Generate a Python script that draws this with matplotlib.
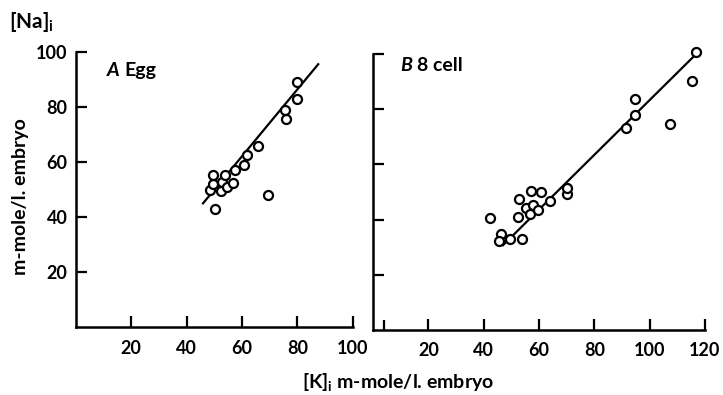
import matplotlib
matplotlib.use("Agg")
import matplotlib.pyplot as plt

plt.rcParams["font.family"] = ["Lato", "DejaVu Sans"]
plt.rcParams["mathtext.fontset"] = "custom"
plt.rcParams["mathtext.rm"] = "Lato:bold"

# panel A: unfertilised egg
egg_k = [50.1, 48.3, 49.5, 49.5, 52.8, 52.5, 53.7, 54.6, 56.7, 57.6,
         60.7, 61.9, 65.8, 69.4, 75.7, 75.4, 80.0, 80.0]
egg_na = [42.8, 49.8, 51.9, 55.3, 52.8, 49.6, 55.3, 51.0, 52.5, 57.1,
          58.9, 62.5, 65.8, 48.0, 75.5, 78.9, 82.8, 89.2]
egg_line_k = [45.9, 87.5]
egg_line_na = [45.0, 95.6]

# panel B: 8 cell
cell_k = [42.2, 46.4, 45.5, 49.6, 53.9, 52.4, 52.7, 55.4, 56.6, 57.2,
          57.8, 59.6, 60.8, 63.8, 70.0, 70.0, 91.5, 94.8, 94.8, 107.5,
          115.4, 116.9]
cell_na = [40.7, 34.9, 32.2, 33.1, 33.1, 40.9, 47.4, 44.2, 41.9, 50.4,
           45.4, 43.6, 50.0, 46.6, 49.2, 51.5, 73.2, 78.0, 83.7, 74.7,
           90.4, 100.7]
cell_line_k = [47.0, 116.4]
cell_line_na = [30.7, 99.6]

fig = plt.figure(figsize=(7.23, 3.95), dpi=100)
axA = fig.add_axes([0.105, 0.172, 0.383, 0.696])
axB = fig.add_axes([0.516, 0.165, 0.459, 0.698])

def style(ax, xmax, xticks, ylabels):
    ax.set_xlim(0, xmax)
    ax.set_ylim(0, 100)
    for s in ["top", "right"]:
        ax.spines[s].set_visible(False)
    for s in ["left", "bottom"]:
        ax.spines[s].set_linewidth(1.8)
    ax.set_xticks(xticks)
    ax.set_yticks([20, 40, 60, 80, 100])
    ax.tick_params(direction="in", length=8, width=1.6, labelsize=13)
    ax.tick_params(axis="x", pad=9)
    ax.tick_params(axis="y", pad=6)
    if not ylabels:
        ax.set_yticklabels([])
    for lab in ax.get_xticklabels() + ax.get_yticklabels():
        lab.set_fontweight("bold")

style(axA, 100, [20, 40, 60, 80, 100], True)
style(axB, 120, [20, 40, 60, 80, 100, 120], False)
axB.set_xticks([4], minor=True)
axB.tick_params(which="minor", direction="in", length=7, width=1.6)

axA.plot(egg_line_k, egg_line_na, color="black", lw=1.6, zorder=2)
axA.plot(egg_k, egg_na, "o", ms=6.5, mfc="white", mec="black", mew=1.6,
         zorder=3, clip_on=False)
axB.plot(cell_line_k, cell_line_na, color="black", lw=1.6, zorder=2)
axB.plot(cell_k, cell_na, "o", ms=6.5, mfc="white", mec="black", mew=1.6,
         zorder=3, clip_on=False)

axA.text(11, 93.5, "A", fontsize=14, fontweight="bold", style="italic", va="center")
axA.text(17.6, 93.5, "Egg", fontsize=14, fontweight="bold", va="center")
axB.text(10, 96, "B", fontsize=14, fontweight="bold", style="italic", va="center")
axB.text(16.0, 96, "8 cell", fontsize=14, fontweight="bold", va="center")

fig.text(0.012, 1 - 22 / 395, r"[Na]$_\mathrm{i}$", fontsize=15, fontweight="bold", va="center")
fig.text(0.028, 1 - 197 / 395, "m-mole/l. embryo", fontsize=14, fontweight="bold",
         rotation=90, va="center", ha="center")
fig.text(398 / 723, 1 - 383 / 395, r"[K]$_\mathrm{i}$ m-mole/l. embryo", fontsize=14,
         fontweight="bold", va="center", ha="center")

fig.savefig("out.png", dpi=100)
